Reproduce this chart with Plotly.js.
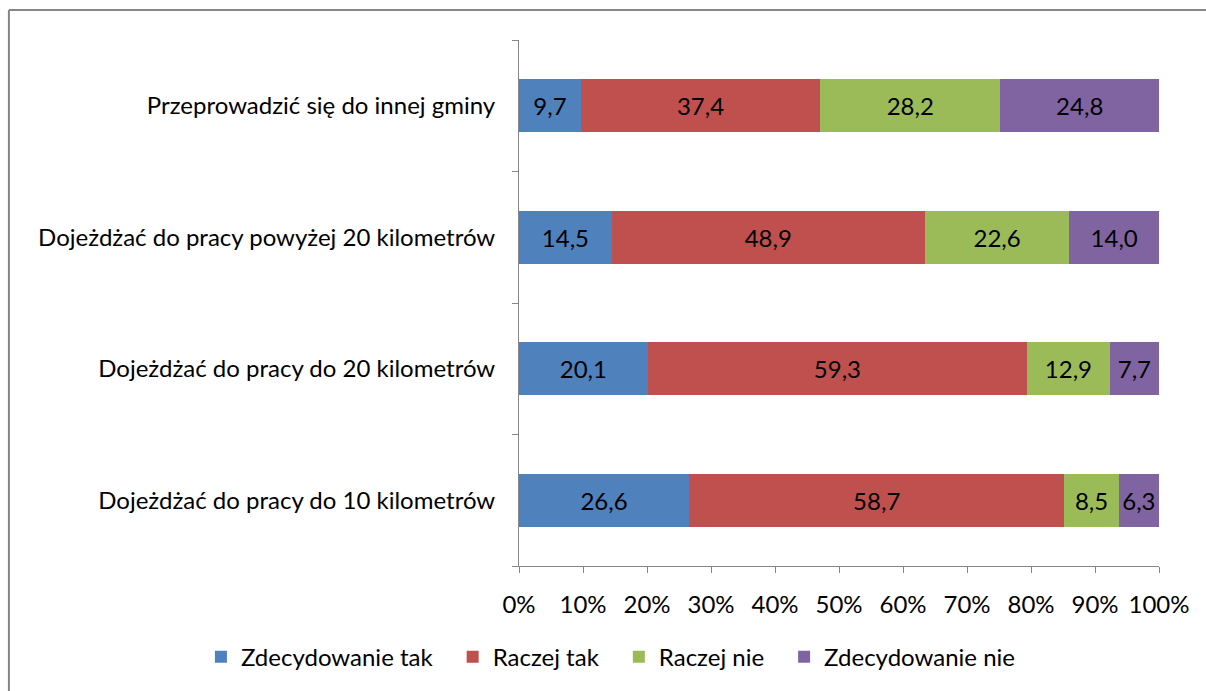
<!DOCTYPE html>
<html>
<head>
<meta charset="utf-8">
<script src="https://cdn.plot.ly/plotly-3.0.1.min.js"></script>
<style>
  body { margin: 0; background: #fff; }
  #chart { width: 1206px; height: 691px; }
</style>
</head>
<body>
<div id="chart"></div>
<script>
var categories = [
    'Dojeżdżać do pracy do 10 kilometrów',
    'Dojeżdżać do pracy do 20 kilometrów',
    'Dojeżdżać do pracy powyżej 20 kilometrów',
    'Przeprowadzić się do innej gminy'
];
var seriesNames = ['Zdecydowanie tak', 'Raczej tak', 'Raczej nie', 'Zdecydowanie nie'];
var zdecydowanieTak = [26.6, 20.1, 14.5, 9.7];
var raczejTak = [58.7, 59.3, 48.9, 37.4];
var raczejNie = [8.5, 12.9, 22.6, 28.2];
var zdecydowanieNie = [6.3, 7.7, 14.0, 24.8];
var xTicks = [0, 10, 20, 30, 40, 50, 60, 70, 80, 90, 100];

var colors = ['#4F81BD', '#C0504D', '#9BBB59', '#8064A2'];
var allValues = [zdecydowanieTak, raczejTak, raczejNie, zdecydowanieNie];

var font = 'Lato, "Open Sans", sans-serif';
var fsize = 24;
// a little extra room after each legend entry, like the original
var legendPad = '\u2002\u2009';

var data = allValues.map(function (vals, i) {
    return {
        type: 'bar',
        orientation: 'h',
        name: seriesNames[i] + (i < seriesNames.length - 1 ? legendPad : ''),
        y: categories,
        x: vals,
        text: vals.map(function (v) { return v.toFixed(1).replace('.', ','); }),
        texttemplate: '%{text}',
        textposition: 'inside',
        insidetextanchor: 'middle',
        constraintext: 'none',
        textfont: { family: font, size: fsize, color: '#000' },
        marker: { color: colors[i], line: { width: 0 } },
        hoverinfo: 'skip'
    };
});

var layout = {
    width: 1206,
    height: 691,
    barmode: 'stack',
    barnorm: 'percent',
    bargap: 0.6,
    showlegend: true,
    paper_bgcolor: '#fff',
    plot_bgcolor: '#fff',
    font: { family: font, size: fsize, color: '#000' },
    margin: { l: 519, r: 47, t: 40, b: 124 },
    xaxis: {
        range: [0, 100],
        tickvals: xTicks,
        ticktext: xTicks.map(function (t) { return t + '%'; }),
        showgrid: false,
        zeroline: false,
        showline: true,
        linecolor: '#868686',
        linewidth: 1,
        ticks: 'outside',
        ticklen: 6,
        tickcolor: '#868686',
        ticklabelstandoff: 11,
        tickfont: { family: font, size: fsize, color: '#000' },
        fixedrange: true
    },
    yaxis: {
        type: 'category',
        categoryorder: 'array',
        categoryarray: categories,
        range: [-0.5, 3.5],
        tickson: 'boundaries',
        showgrid: false,
        zeroline: false,
        showline: true,
        linecolor: '#868686',
        linewidth: 1,
        ticks: 'outside',
        ticklen: 6,
        tickcolor: '#868686',
        ticklabelstandoff: 18,
        tickfont: { family: font, size: fsize, color: '#000' },
        fixedrange: true
    },
    legend: {
        orientation: 'h',
        x: -0.497,
        xanchor: 'left',
        y: -0.171,
        yanchor: 'middle',
        bgcolor: 'rgba(0,0,0,0)',
        traceorder: 'normal',
        font: { family: font, size: fsize, color: '#000' },
        itemwidth: 30
    },
    shapes: [
        {
            type: 'line',
            xref: 'paper', yref: 'paper',
            x0: -0.797, x1: 1.2, y0: 1.0569, y1: 1.0569,
            line: { color: '#868686', width: 2 },
            layer: 'below'
        },
        {
            type: 'line',
            xref: 'paper', yref: 'paper',
            x0: -0.797, x1: -0.797, y0: -0.5, y1: 1.0569,
            line: { color: '#868686', width: 2 },
            layer: 'below'
        }
    ]
};

Plotly.newPlot('chart', data, layout, { displayModeBar: false, staticPlot: true });
</script>
</body>
</html>
